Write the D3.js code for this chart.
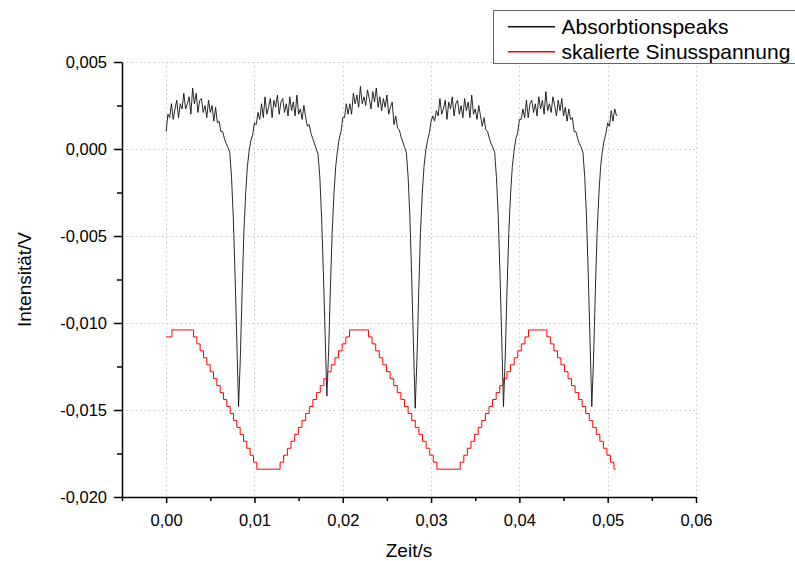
<!DOCTYPE html>
<html>
<head>
<meta charset="utf-8">
<script src="https://cdn.jsdelivr.net/npm/d3@7"></script>
<style>
  html, body { margin: 0; padding: 0; background: #fff; }
  svg { display: block; font-family: Arial, "Liberation Sans", sans-serif; }
</style>
</head>
<body>
<svg id="chart" width="795" height="561"></svg>
<script>
// =============================================================================
// Data. Intensity values in mV, times in ms.
// =============================================================================

// Absorption trace, one sample every 0.2 ms starting at t = 0
const sampleStepMs = 0.2;
const absorptionMv = [
  1.0, 2.0, 1.8, 2.6, 1.7, 2.3, 2.8, 1.8, 2.6, 2.3,
  3.2, 2.3, 2.6, 3.0, 2.0, 3.5, 2.6, 3.2, 2.1, 2.8,
  2.9, 2.1, 2.5, 1.8, 2.8, 2.1, 2.5, 1.6, 2.4, 1.5,
  1.6, 1.0, 1.0, 0.6, 0.3, 0.1, -0.2, -1.6, -3.9, -7.2,
  -11.0, -14.8, -12.0, -8.2, -4.8, -2.6, -1.0, -0.1, 0.5, 0.8,
  1.5, 1.4, 2.1, 1.7, 2.6, 1.8, 3.0, 2.0, 2.4, 2.9,
  1.8, 2.8, 2.4, 3.1, 2.0, 2.7, 2.9, 2.1, 2.6, 1.9,
  3.0, 2.2, 2.7, 1.9, 3.1, 2.0, 2.3, 1.7, 2.5, 1.8,
  1.3, 1.4, 0.9, 0.6, 0.3, 0.0, -0.3, -1.6, -3.9, -7.0,
  -10.6, -14.2, -11.6, -8.0, -4.8, -2.6, -1.0, -0.1, 0.6, 1.0,
  1.8, 1.8, 2.6, 2.0, 2.6, 2.0, 3.2, 2.6, 3.1, 2.4,
  3.6, 2.6, 3.0, 2.5, 3.4, 2.9, 2.3, 3.3, 2.7, 3.5,
  2.4, 3.0, 2.2, 2.9, 2.4, 3.1, 2.0, 2.4, 2.7, 1.4,
  1.9, 1.2, 1.1, 0.7, 0.4, 0.1, -0.2, -1.6, -3.9, -7.3,
  -11.1, -14.9, -12.1, -8.2, -4.8, -2.6, -1.0, -0.1, 0.5, 0.9,
  1.6, 1.9, 1.6, 2.2, 1.9, 2.9, 2.0, 2.3, 2.8, 1.7,
  2.7, 2.3, 3.0, 1.9, 2.6, 2.8, 2.0, 2.5, 1.8, 2.9,
  2.2, 2.7, 1.8, 3.1, 2.0, 2.3, 1.7, 2.5, 1.9, 1.3,
  1.8, 1.1, 1.0, 0.6, 0.3, 0.1, -0.2, -1.6, -3.8, -7.1,
  -10.9, -14.8, -11.9, -8.1, -4.8, -2.6, -1.0, -0.1, 0.6, 0.9,
  1.7, 1.7, 2.3, 1.8, 2.8, 1.8, 2.6, 2.8, 2.1, 2.6,
  1.9, 3.0, 2.3, 2.8, 2.0, 3.3, 2.2, 2.6, 2.1, 3.0,
  2.5, 1.9, 2.8, 2.2, 2.9, 1.9, 2.4, 1.6, 2.3, 1.7,
  1.8, 1.0, 1.0, 0.6, 0.3, 0.1, -0.2, -1.6, -3.9, -7.2,
  -11.0, -14.8, -12.0, -8.2, -4.8, -2.6, -1.0, -0.1, 0.5, 0.9,
  1.5, 1.3, 2.2, 1.6, 2.3, 1.9
];

// Scaled sine voltage: quantized staircase, level holds until the next time
const sineStepTimeMs = [
  0, 0.65,
  3.10, 3.48, 3.85, 4.23, 4.61, 4.99, 5.36, 5.74, 6.12, 6.49,
  6.87, 7.25, 7.63, 8.00, 8.38, 8.76, 9.13, 9.51, 9.89, 10.27,
  12.90, 13.31, 13.73, 14.14, 14.55, 14.97, 15.38, 15.80, 16.21, 16.62,
  17.04, 17.45, 17.86, 18.28, 18.69, 19.11, 19.52, 19.93, 20.35, 20.76,
  22.91, 23.32, 23.73, 24.13, 24.54, 24.95, 25.36, 25.77, 26.17, 26.58,
  26.99, 27.40, 27.81, 28.21, 28.62, 29.03, 29.44, 29.85, 30.25, 30.66,
  33.30, 33.71, 34.11, 34.52, 34.93, 35.34, 35.74, 36.15, 36.56, 36.96,
  37.37, 37.78, 38.18, 38.59, 39.00, 39.41, 39.81, 40.22, 40.63, 41.03,
  43.11, 43.51, 43.91, 44.31, 44.71, 45.11, 45.51, 45.91, 46.31, 46.71,
  47.11, 47.51, 47.91, 48.31, 48.71, 49.11, 49.51, 49.91, 50.31, 50.71,
  50.90
];
const sineStepLevelMv = [
  -10.8, -10.4,
  -10.8, -11.2, -11.6, -12.0, -12.4, -12.8, -13.2, -13.6, -14.0, -14.4,
  -14.8, -15.2, -15.6, -16.0, -16.4, -16.8, -17.2, -17.6, -18.0, -18.4,
  -18.0, -17.6, -17.2, -16.8, -16.4, -16.0, -15.6, -15.2, -14.8, -14.4,
  -14.0, -13.6, -13.2, -12.8, -12.4, -12.0, -11.6, -11.2, -10.8, -10.4,
  -10.8, -11.2, -11.6, -12.0, -12.4, -12.8, -13.2, -13.6, -14.0, -14.4,
  -14.8, -15.2, -15.6, -16.0, -16.4, -16.8, -17.2, -17.6, -18.0, -18.4,
  -18.0, -17.6, -17.2, -16.8, -16.4, -16.0, -15.6, -15.2, -14.8, -14.4,
  -14.0, -13.6, -13.2, -12.8, -12.4, -12.0, -11.6, -11.2, -10.8, -10.4,
  -10.8, -11.2, -11.6, -12.0, -12.4, -12.8, -13.2, -13.6, -14.0, -14.4,
  -14.8, -15.2, -15.6, -16.0, -16.4, -16.8, -17.2, -17.6, -18.0, -18.4,
  -18.4
];

const xMajorTicks = [0, 0.01, 0.02, 0.03, 0.04, 0.05, 0.06];
const xMinorTicks = [-0.005, 0.005, 0.015, 0.025, 0.035, 0.045, 0.055];
const yMajorTicks = [-0.020, -0.015, -0.010, -0.005, 0.000, 0.005];
const yMinorTicks = [-0.0175, -0.0125, -0.0075, -0.0025, 0.0025];
const seriesNames = ['Absorbtionspeaks', 'skalierte Sinusspannung'];
const seriesColors = ['#111111', '#ff0000'];

// =============================================================================
// Build
// =============================================================================

const svg = d3.select('#chart');
const W = 795, H = 561;
const plot = { left: 122, right: 696, top: 62, bottom: 497 };

svg.append('rect').attr('width', W).attr('height', H).attr('fill', '#fff');

const x = d3.scaleLinear().domain([-0.005, 0.06]).range([plot.left, plot.right]);
const y = d3.scaleLinear().domain([-0.020, 0.005]).range([plot.bottom, plot.top]);

// German number style: comma decimal, plain hyphen minus
const de = d3.formatLocale({ decimal: ',', thousands: '.', grouping: [3], currency: ['', ' €'], minus: '-' });
const fmtX = de.format('.2f');
const fmtY = de.format('.3f');

// Dotted grid at the major ticks
const grid = svg.append('g').attr('class', 'grid')
  .attr('stroke', '#c8c8c8').attr('stroke-width', 1).attr('stroke-dasharray', '1.5,3');
grid.selectAll('line.gx')
  .data(xMajorTicks)
  .join('line')
  .attr('class', 'gx')
  .attr('x1', d => Math.round(x(d)) + 0.5).attr('x2', d => Math.round(x(d)) + 0.5)
  .attr('y1', plot.top).attr('y2', plot.bottom);
grid.selectAll('line.gy')
  .data(yMajorTicks.filter(d => d > -0.02))
  .join('line')
  .attr('class', 'gy')
  .attr('x1', plot.left).attr('x2', plot.right)
  .attr('y1', d => Math.round(y(d)) + 0.5).attr('y2', d => Math.round(y(d)) + 0.5);

// Series
const absorption = absorptionMv.map((v, i) => ({ t: i * sampleStepMs / 1000, v: v / 1000 }));
const sine = sineStepTimeMs.map((t, i) => ({ t: t / 1000, v: sineStepLevelMv[i] / 1000 }));

svg.append('path')
  .datum(absorption)
  .attr('fill', 'none')
  .attr('stroke', seriesColors[0])
  .attr('stroke-width', 0.9)
  .attr('d', d3.line().x(d => x(d.t)).y(d => y(d.v)));

svg.append('path')
  .datum(sine)
  .attr('fill', 'none')
  .attr('stroke', seriesColors[1])
  .attr('stroke-width', 1)
  .attr('d', d3.line().curve(d3.curveStepAfter).x(d => x(d.t)).y(d => y(d.v)));

// Axes (major with labels, minor without)
svg.append('g')
  .attr('transform', `translate(0,${plot.bottom})`)
  .call(d3.axisBottom(x).tickValues(xMajorTicks).tickSize(6).tickSizeOuter(0).tickPadding(11).tickFormat(fmtX));
svg.append('g')
  .attr('transform', `translate(0,${plot.bottom})`)
  .call(d3.axisBottom(x).tickValues(xMinorTicks).tickSize(4).tickFormat(''))
  .call(g => g.select('.domain').remove());

svg.append('g')
  .attr('transform', `translate(${plot.left},0)`)
  .call(d3.axisLeft(y).tickValues(yMajorTicks).tickSize(8).tickSizeOuter(0).tickPadding(7).tickFormat(fmtY));
svg.append('g')
  .attr('transform', `translate(${plot.left},0)`)
  .call(d3.axisLeft(y).tickValues(yMinorTicks).tickSize(5).tickFormat(''))
  .call(g => g.select('.domain').remove());

svg.selectAll('.domain, .tick line').attr('stroke', '#000').attr('stroke-width', 1.5);
svg.selectAll('.tick text')
  .attr('fill', '#000')
  .attr('font-family', 'Arial, "Liberation Sans", sans-serif')
  .attr('font-size', 16.5);

// Axis titles
svg.append('text')
  .attr('x', (plot.left + plot.right) / 2)
  .attr('y', 557)
  .attr('text-anchor', 'middle')
  .attr('font-size', 19)
  .text('Zeit/s');

svg.append('text')
  .attr('transform', `translate(31,${(plot.top + plot.bottom) / 2}) rotate(-90)`)
  .attr('text-anchor', 'middle')
  .attr('font-size', 19)
  .text('Intensität/V');

// Legend (box runs off the right edge, like the original export)
const legend = svg.append('g').attr('class', 'legend');
legend.append('rect')
  .attr('x', 493.5).attr('y', 10.5)
  .attr('width', 340).attr('height', 53)
  .attr('fill', '#fff')
  .attr('stroke', '#666')
  .attr('stroke-width', 1);

// Sample swatches drawn as thin filled strips
legend.selectAll('rect.swatch')
  .data(seriesColors)
  .join('rect')
  .attr('class', 'swatch')
  .attr('x', 508).attr('width', 47)
  .attr('y', (d, i) => 26 + i * 25).attr('height', 1.5)
  .attr('fill', d => d);

legend.selectAll('text.label')
  .data(seriesNames)
  .join('text')
  .attr('class', 'label')
  .attr('x', 561.5)
  .attr('y', (d, i) => 33.5 + i * 25)
  .attr('font-size', 21)
  .attr('fill', '#000')
  .text(d => d);
</script>
</body>
</html>
